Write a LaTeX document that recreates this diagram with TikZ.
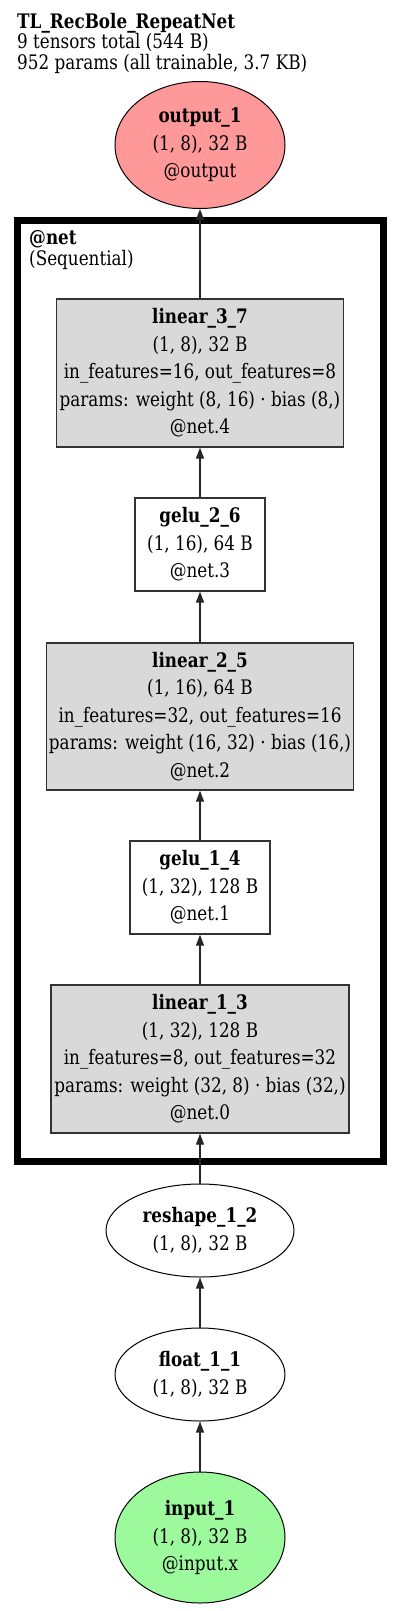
\documentclass[tikz,border=0pt]{standalone}
\usepackage{fontspec}
\setmainfont[FakeStretch=0.84]{DejaVu Serif}
\usetikzlibrary{shapes.geometric,arrows.meta}
\definecolor{outred}{HTML}{FF9999}
\definecolor{ingreen}{HTML}{9CFA9C}

\begin{document}
\begin{tikzpicture}
    [x=1pt,y=-1pt,
     every node/.style={inner sep=0pt, align=center, font=\fontsize{20}{27.5}\selectfont},
     layer/.style={draw=black!80, line width=1.3pt, rectangle, fill=gray!30},
     plain/.style={draw=black!80, line width=1.3pt, rectangle, fill=white},
     tensor/.style={draw=black, line width=1pt, ellipse},
     flow/.style={draw=black!85, line width=1.3pt, -{Triangle[length=11pt,width=8pt]}},
     caption/.style={anchor=west, align=left, font=\fontsize{20}{20.5}\selectfont}]
    \useasboundingbox (0,0) rectangle (400,1611);

    \node[caption] (title) at (17,43) {\textbf{TL\_RecBole\_RepeatNet}\\9 tensors total (544 B)\\952 params (all trainable, 3.7 KB)};

    % cluster @net
    \draw[line width=7pt] (17,220) rectangle (383,1161);
    \node[caption] (netlabel) at (29,250) {\textbf{@net}\\(Sequential)};

    \node[tensor, fill=outred, minimum width=170pt, minimum height=127pt] (output1) at (200,145) {\textbf{output\_1}\\(1, 8), 32 B\\@output};
    \node[layer, minimum width=287pt, minimum height=148pt] (lin37) at (200,373) {\textbf{linear\_3\_7}\\(1, 8), 32 B\\in\_features=16, out\_features=8\\params: weight (8, 16) · bias (8,)\\@net.4};
    \node[plain, minimum width=130pt, minimum height=93pt] (gelu26) at (200,544.5) {\textbf{gelu\_2\_6}\\(1, 16), 64 B\\@net.3};
    \node[layer, minimum width=307pt, minimum height=147pt] (lin25) at (200,716.5) {\textbf{linear\_2\_5}\\(1, 16), 64 B\\in\_features=32, out\_features=16\\params: weight (16, 32) · bias (16,)\\@net.2};
    \node[plain, minimum width=140pt, minimum height=93pt] (gelu14) at (200,887.5) {\textbf{gelu\_1\_4}\\(1, 32), 128 B\\@net.1};
    \node[layer, minimum width=298pt, minimum height=148pt] (lin13) at (200,1059) {\textbf{linear\_1\_3}\\(1, 32), 128 B\\in\_features=8, out\_features=32\\params: weight (32, 8) · bias (32,)\\@net.0};
    \node[tensor, fill=white, minimum width=188pt, minimum height=93pt] (reshape12) at (200,1230.5) {\textbf{reshape\_1\_2}\\(1, 8), 32 B};
    \node[tensor, fill=white, minimum width=170pt, minimum height=93pt] (float11) at (200,1374.5) {\textbf{float\_1\_1}\\(1, 8), 32 B};
    \node[tensor, fill=ingreen, minimum width=170pt, minimum height=131pt] (input1) at (200,1537.5) {\textbf{input\_1}\\(1, 8), 32 B\\@input.x};

    \foreach \from/\to in {input1/float11, float11/reshape12, reshape12/lin13, lin13/gelu14, gelu14/lin25, lin25/gelu26, gelu26/lin37, lin37/output1}
      \draw[flow] (\from) -- (\to);
\end{tikzpicture}
\end{document}
